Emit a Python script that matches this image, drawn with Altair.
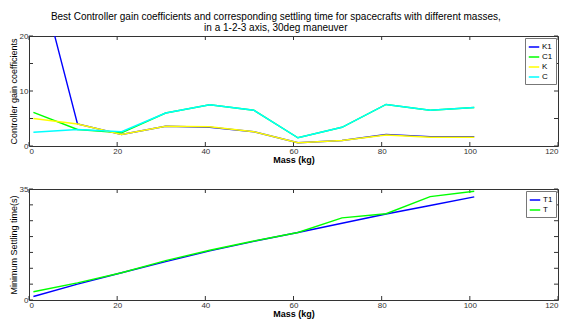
import altair as alt
import pandas as pd

mass = [1, 11, 21, 31, 41, 51, 61, 71, 81, 91, 101]
K1 = [35.0, 4.0, 2.1, 3.6, 3.4, 2.6, 0.6, 1.0, 2.1, 1.7, 1.7]
C1 = [6.1, 3.0, 2.4, 6.0, 7.5, 6.5, 1.5, 3.4, 7.55, 6.5, 7.0]
K = [5.0, 4.0, 2.1, 3.6, 3.5, 2.6, 0.6, 1.0, 2.0, 1.6, 1.6]
C = [2.5, 3.0, 2.6, 6.0, 7.5, 6.5, 1.5, 3.4, 7.55, 6.5, 7.0]
T1 = [1.1, 5.0, 8.6, 12.1, 15.5, 18.5, 21.3, 24.2, 27.1, 29.8, 32.5]
T = [2.6, 5.4, 8.6, 12.4, 15.7, 18.6, 21.3, 25.9, 27.2, 32.6, 34.3]

x_ticks = [0, 20, 40, 60, 80, 100, 120]
y_ticks_top = [0, 5, 10, 15, 20]
y_ticks_bot = [0, 5, 10, 15, 20, 25, 30, 35]

top_series = ["K1", "C1", "K", "C"]
top_colors = ["#0000ff", "#00ff00", "#ffff00", "#00ffff"]
bot_series = ["T1", "T"]
bot_colors = ["#0000ff", "#00ff00"]

W = 529

def long(names, arrays):
    rows = []
    for n, arr in zip(names, arrays):
        for m, v in zip(mass, arr):
            rows.append({"series": n, "mass": m, "value": v})
    return pd.DataFrame(rows)

top_df = long(top_series, [K1, C1, K, C])
bot_df = long(bot_series, [T1, T])

xscale = alt.Scale(domain=[0, 120], nice=False)

def panel(df, series, colors, ymax, yticks, ytitle, H):
    yscale = alt.Scale(domain=[0, ymax], nice=False)
    lines = alt.Chart(df).mark_line(strokeWidth=1.4, clip=True).encode(
        x=alt.X("mass:Q", scale=xscale, title="Mass (kg)",
                axis=alt.Axis(values=x_ticks, grid=False, ticks=False, domain=False,
                              labelFontSize=8, labelPadding=1, titleFontSize=9,
                              titleFontWeight="bold", titlePadding=0, labelColor="#333",
                              labelFlush=True, labelOverlap=False)),
        y=alt.Y("value:Q", scale=yscale, title=ytitle,
                axis=alt.Axis(values=yticks, grid=False, ticks=False, domain=False,
                              labelFontSize=8, labelPadding=1, titleFontSize=9,
                              titleFontWeight="normal", titlePadding=1, labelColor="#333",
                              labelOverlap=False, labelFlush=False)),
        color=alt.Color("series:N", scale=alt.Scale(domain=series, range=colors),
                        sort=series, title=None,
                        legend=alt.Legend(orient="top-right", offset=2, strokeColor="#777",
                                          fillColor="white", padding=3, symbolType="stroke",
                                          symbolStrokeWidth=1.5, symbolSize=110,
                                          labelFontSize=8, rowPadding=0, labelOffset=2,
                                          cornerRadius=0)),
        order=alt.Order("mass:Q"),
    )
    xt = pd.DataFrame({"t": x_ticks})
    yt = pd.DataFrame({"t": yticks})
    xb = alt.Chart(xt).mark_rule(color="#333", strokeWidth=1).encode(
        x=alt.X("t:Q", scale=xscale), y=alt.value(H), y2=alt.value(H - 4))
    xtop = alt.Chart(xt).mark_rule(color="#333", strokeWidth=1).encode(
        x=alt.X("t:Q", scale=xscale), y=alt.value(0), y2=alt.value(4))
    yl = alt.Chart(yt).mark_rule(color="#333", strokeWidth=1).encode(
        y=alt.Y("t:Q", scale=yscale), x=alt.value(0), x2=alt.value(4))
    yr = alt.Chart(yt).mark_rule(color="#333", strokeWidth=1).encode(
        y=alt.Y("t:Q", scale=yscale), x=alt.value(W), x2=alt.value(W - 4))
    return alt.layer(xb, xtop, yl, yr, lines).properties(width=W, height=H)

top = panel(top_df, top_series, top_colors, 20, y_ticks_top, "Controller gain coefficients", 110)
bot = panel(bot_df, bot_series, bot_colors, 35, y_ticks_bot, "Minimum Settling time(s)", 111)

chart = alt.vconcat(top, bot, spacing=19).resolve_scale(color="independent").properties(
    title=alt.Title(["Best Controller gain coefficients and corresponding settling time for spacecrafts with different masses,",
                     "in a 1-2-3 axis, 30deg maneuver"],
                    fontSize=10, fontWeight="normal", anchor="middle", offset=-1, dx=-8,
                    font="Liberation Sans", lineHeight=11),
    padding={"left": 0, "top": 3, "right": 0, "bottom": 0},
).configure(font="Liberation Sans").configure_view(stroke="#333", strokeWidth=1)

chart.save("out.html", embed_options={"renderer": "svg", "actions": False})
